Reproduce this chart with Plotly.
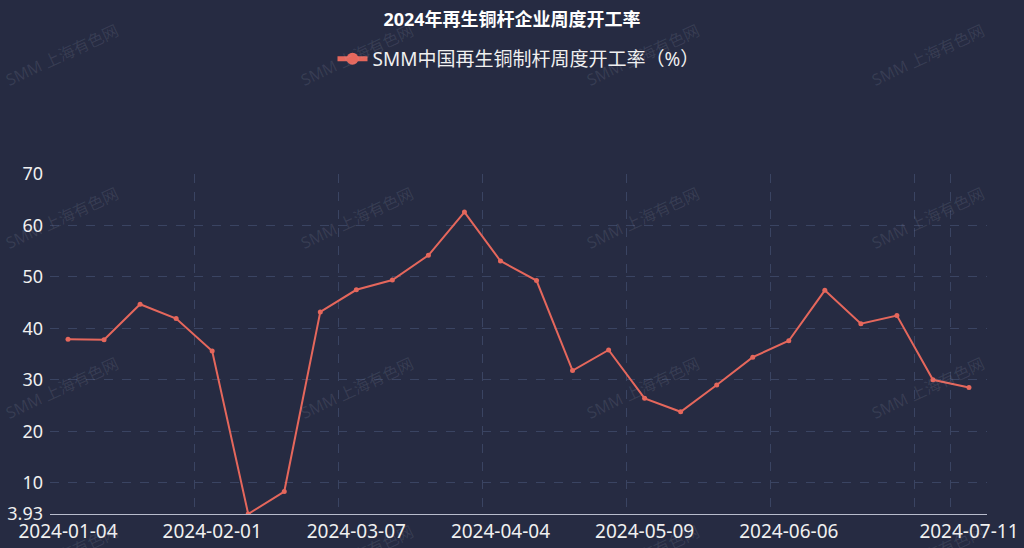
import plotly.graph_objects as go

dates = ["2024-01-04", "2024-01-11", "2024-01-18", "2024-01-25", "2024-02-01",
         "2024-02-08", "2024-02-22", "2024-02-29", "2024-03-07", "2024-03-14",
         "2024-03-21", "2024-03-28", "2024-04-04", "2024-04-11", "2024-04-18",
         "2024-04-25", "2024-05-09", "2024-05-16", "2024-05-23", "2024-05-30",
         "2024-06-06", "2024-06-13", "2024-06-20", "2024-06-27", "2024-07-04",
         "2024-07-11"]
rates = [37.9, 37.8, 44.7, 41.9, 35.6,
         3.93, 8.3, 43.2, 47.5, 49.4,
         54.2, 62.6, 53.1, 49.3, 31.8,
         35.8, 26.4, 23.8, 29.0, 34.4,
         37.6, 47.4, 40.9, 42.5, 30.0,
         28.5]
label_dates = ["2024-01-04", "2024-02-01", "2024-03-07", "2024-04-04",
               "2024-05-09", "2024-06-06", "2024-07-11"]
y_ticks = [3.93, 10, 20, 30, 40, 50, 60, 70]

series_name = "SMM中国再生铜制杆周度开工率（%）"
title_text = "2024年再生铜杆企业周度开工率"
watermark = "SMM 上海有色网"

BG = "#262b42"
LINE = "#e5675c"
GRID = "#3a4462"
AXIS = "#b8bccc"
TXT = "#f0f0f0"
FONT = "Noto Sans, Noto Sans CJK SC, sans-serif"

n = len(dates)
idx = list(range(n))
label_pos = [dates.index(d) for d in label_dates]
# category band boundaries: every 4 categories, plus the last label and the end
tick_bounds = [i - 0.5 for i in range(0, n, 4)] + [n - 0.5]
grid_bounds = sorted(set(tick_bounds + [label_pos[-1] - 0.5]))

fig = go.Figure()
fig.add_trace(go.Scatter(
    x=idx, y=rates, mode="lines+markers", name=series_name,
    line=dict(color=LINE, width=2),
    marker=dict(color=LINE, size=5),
))

# watermarks
W, H = 1024, 548
L, R, T, B = 50, 37, 174, 34
pw, ph = W - L - R, H - T - B
wm_cols = [62, 357, 643, 928]
wm_rows = [55, 218, 388, 556]
anns = []
for py in wm_rows:
    for px in wm_cols:
        anns.append(dict(
            text=watermark, x=(px - L) / pw, y=(H - B - py) / ph,
            xref="paper", yref="paper", showarrow=False, textangle=-25,
            font=dict(size=16, color="rgba(190,195,215,0.12)", family=FONT),
            xanchor="center", yanchor="middle",
        ))

fig.update_layout(
    width=W, height=H,
    paper_bgcolor=BG, plot_bgcolor=BG,
    margin=dict(l=L, r=R, t=T, b=B, autoexpand=False),
    font=dict(family=FONT, color=TXT),
    title=dict(text="<b>" + title_text + "</b>", x=0.5, xanchor="center",
               y=1 - 20 / H, yref="container", yanchor="middle",
               font=dict(size=18, color="#ffffff", family=FONT)),
    showlegend=True,
    legend=dict(orientation="h", x=0.5, xanchor="center",
                y=(H - B - 59) / ph, yanchor="middle",
                font=dict(size=19, color=TXT, family=FONT),
                itemsizing="constant",
                bgcolor="rgba(0,0,0,0)"),
    annotations=anns,
    xaxis=dict(
        range=[-0.5, n - 0.5], automargin=False,
        tickmode="array", tickvals=label_pos, ticktext=label_dates,
        ticks="", showgrid=False, zeroline=False,
        showline=True, linecolor=AXIS, linewidth=1,
        tickfont=dict(size=19, color=TXT),
        minor=dict(tickmode="array", tickvals=grid_bounds, ticks="",
                   showgrid=True, gridcolor=GRID, griddash="dash",
                   gridwidth=1),
    ),
    xaxis2=dict(
        overlaying="x", anchor="y", side="bottom",
        range=[-0.5, n - 0.5], automargin=False,
        tickmode="array", tickvals=tick_bounds, showticklabels=False,
        ticks="outside", ticklen=5, tickcolor=AXIS, tickwidth=1,
        showgrid=False, zeroline=False, showline=False,
    ),
    yaxis=dict(
        range=[3.93, 70], automargin=False,
        tickmode="array", tickvals=y_ticks,
        ticktext=[("%g" % v) for v in y_ticks],
        showgrid=True, gridcolor=GRID, griddash="dash", gridwidth=1,
        zeroline=False, showline=False, ticks="",
        tickfont=dict(size=18, color=TXT), ticklabelstandoff=6,
    ),
)

fig.write_html(
    "out.html",
    config={"displayModeBar": False},
    post_script="document.body.style.margin='0';document.body.style.overflow='hidden';",
)
